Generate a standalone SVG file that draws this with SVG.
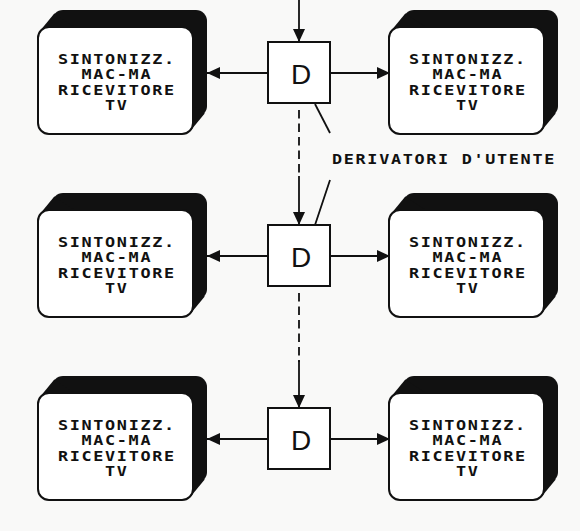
<svg xmlns="http://www.w3.org/2000/svg" xmlns:xlink="http://www.w3.org/1999/xlink" width="580" height="531" viewBox="0 0 580 531">
<style>
.lbl{font-family:"DejaVu Sans Mono","Liberation Mono",monospace;font-weight:bold;font-size:14px;letter-spacing:1.4px;fill:#111}
.ctr{text-anchor:middle}
.box{fill:#fff;stroke:#111;stroke-width:2}
.dl{font-family:"Liberation Sans","DejaVu Sans",sans-serif;font-size:28px;fill:#111;text-anchor:middle}
.ln{stroke:#111;stroke-width:1.8;fill:none}
.dash{stroke-dasharray:8.5 5}
</style>
<defs>
<marker id="ah" viewBox="0 0 13 12" refX="13" refY="6" markerWidth="13" markerHeight="12" markerUnits="userSpaceOnUse" orient="auto">
<path d="M0,0 L13,6 L0,12 z" fill="#111"/>
</marker>
<g id="tv">
<rect x="14" y="-17" width="155" height="107" rx="11" fill="#111"/>
<polygon points="2.3,3.6 16.3,-13.4 166.7,86.4 152.7,103.4" fill="#111"/>
<rect x="0" y="0" width="155" height="107" rx="11" fill="#fff" stroke="#111" stroke-width="2"/>
</g>
</defs>
<rect width="580" height="531" fill="#f9f9f8"/>

<g id="connectors">
<line class="ln" x1="299" y1="0" x2="299" y2="42" marker-end="url(#ah)"/>
<line class="ln" x1="268" y1="73" x2="207" y2="73" marker-end="url(#ah)"/>
<line class="ln" x1="330" y1="73" x2="390" y2="73" marker-end="url(#ah)"/>
<line class="ln dash" x1="299" y1="110" x2="299" y2="176"/>
<line class="ln" x1="299" y1="176" x2="299" y2="225" marker-end="url(#ah)"/>
<line class="ln" x1="268" y1="256" x2="207" y2="256" marker-end="url(#ah)"/>
<line class="ln" x1="330" y1="256" x2="390" y2="256" marker-end="url(#ah)"/>
<line class="ln dash" x1="299" y1="293" x2="299" y2="362"/>
<line class="ln" x1="299" y1="360" x2="299" y2="408" marker-end="url(#ah)"/>
<line class="ln" x1="268" y1="439" x2="207" y2="439" marker-end="url(#ah)"/>
<line class="ln" x1="330" y1="439" x2="390" y2="439" marker-end="url(#ah)"/>
<line class="ln" x1="315" y1="104" x2="330" y2="133"/>
<line class="ln" x1="330" y1="180" x2="315" y2="225"/>
</g>

<g id="label">
<text class="lbl" transform="translate(332,164) scale(1.2,1)">DERIVATORI D'UTENTE</text>
</g>

<g id="d1"><rect class="box" x="268" y="42" width="62" height="61"/><text class="dl" x="301" y="84">D</text></g>
<g id="d2"><rect class="box" x="268" y="225" width="62" height="61"/><text class="dl" x="301" y="267">D</text></g>
<g id="d3"><rect class="box" x="268" y="408" width="62" height="61"/><text class="dl" x="301" y="450">D</text></g>

<g id="tv1l" transform="translate(38,27)"><use xlink:href="#tv"/>
<g transform="translate(78,0) scale(1.2,1)"><text class="lbl ctr" x="0.7" y="37">SINTONIZZ.</text><text class="lbl ctr" x="0.7" y="52">MAC-MA</text><text class="lbl ctr" x="0.7" y="68">RICEVITORE</text><text class="lbl ctr" x="0.7" y="83">TV</text></g></g>
<g id="tv1r" transform="translate(389,27)"><use xlink:href="#tv"/>
<g transform="translate(78,0) scale(1.2,1)"><text class="lbl ctr" x="0.7" y="37">SINTONIZZ.</text><text class="lbl ctr" x="0.7" y="52">MAC-MA</text><text class="lbl ctr" x="0.7" y="68">RICEVITORE</text><text class="lbl ctr" x="0.7" y="83">TV</text></g></g>
<g id="tv2l" transform="translate(38,210)"><use xlink:href="#tv"/>
<g transform="translate(78,0) scale(1.2,1)"><text class="lbl ctr" x="0.7" y="37">SINTONIZZ.</text><text class="lbl ctr" x="0.7" y="52">MAC-MA</text><text class="lbl ctr" x="0.7" y="68">RICEVITORE</text><text class="lbl ctr" x="0.7" y="83">TV</text></g></g>
<g id="tv2r" transform="translate(389,210)"><use xlink:href="#tv"/>
<g transform="translate(78,0) scale(1.2,1)"><text class="lbl ctr" x="0.7" y="37">SINTONIZZ.</text><text class="lbl ctr" x="0.7" y="52">MAC-MA</text><text class="lbl ctr" x="0.7" y="68">RICEVITORE</text><text class="lbl ctr" x="0.7" y="83">TV</text></g></g>
<g id="tv3l" transform="translate(38,393)"><use xlink:href="#tv"/>
<g transform="translate(78,0) scale(1.2,1)"><text class="lbl ctr" x="0.7" y="37">SINTONIZZ.</text><text class="lbl ctr" x="0.7" y="52">MAC-MA</text><text class="lbl ctr" x="0.7" y="68">RICEVITORE</text><text class="lbl ctr" x="0.7" y="83">TV</text></g></g>
<g id="tv3r" transform="translate(389,393)"><use xlink:href="#tv"/>
<g transform="translate(78,0) scale(1.2,1)"><text class="lbl ctr" x="0.7" y="37">SINTONIZZ.</text><text class="lbl ctr" x="0.7" y="52">MAC-MA</text><text class="lbl ctr" x="0.7" y="68">RICEVITORE</text><text class="lbl ctr" x="0.7" y="83">TV</text></g></g>
</svg>
